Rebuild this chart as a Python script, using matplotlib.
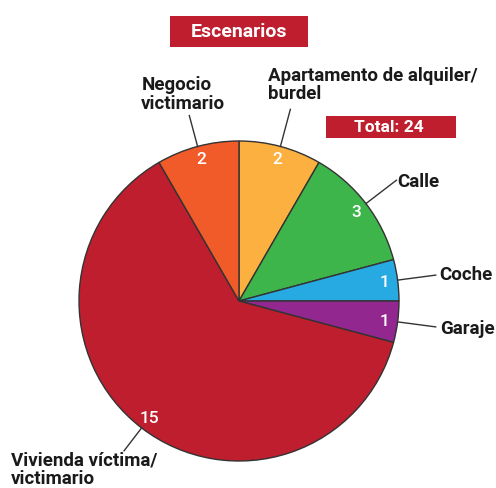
import numpy as np
import matplotlib.pyplot as plt
from matplotlib.patches import Rectangle

# --- Data ---
labels = ['Apartamento de alquiler/\nburdel', 'Calle', 'Coche', 'Garaje',
          'Vivienda víctima/\nvictimario', 'Negocio\nvictimario']
values = [2, 3, 1, 1, 15, 2]
colors = ['#FBB040', '#3DB54A', '#27AAE1', '#92278F', '#BE1E2D', '#F15A29']
title = 'Escenarios'
total_text = f'Total: {sum(values)}'

plt.rcParams['font.family'] = ['Roboto', 'DejaVu Sans']

W, H = 496, 489
fig = plt.figure(figsize=(W / 100, H / 100), dpi=100)
ax = fig.add_axes([0, 0, 1, 1])

cx, cy, R = 239, H - 302, 160

wedges, _, autotexts = ax.pie(
    values, colors=colors, startangle=90, counterclock=False,
    center=(cx, cy), radius=R, frame=True,
    autopct=lambda p: f'{round(p * sum(values) / 100):d}',
    pctdistance=0.92,
    wedgeprops=dict(edgecolor='#333333', linewidth=1.0),
    textprops=dict(color='white', fontsize=12.5, fontweight='medium'))
ax.set_xlim(0, W)
ax.set_ylim(0, H)
ax.set_aspect('equal')
ax.axis('off')

# leader end radius, text offset from leader end, alignment
label_layout = [
    dict(r=1.24, dx=-22, dy=7, ha='left', va='bottom'),
    dict(r=1.24, dx=1, dy=-1, ha='left', va='center'),
    dict(r=1.24, dx=4, dy=1, ha='left', va='center'),
    dict(r=1.24, dx=4, dy=-1, ha='left', va='center'),
    dict(r=1.18, dx=-113, dy=0, ha='left', va='top'),
    dict(r=1.20, dx=-48, dy=4, ha='left', va='bottom'),
]

for w, lab, lay in zip(wedges, labels, label_layout):
    ang = np.deg2rad((w.theta1 + w.theta2) / 2)
    x0, y0 = cx + R * np.cos(ang), cy + R * np.sin(ang)
    x1, y1 = cx + lay['r'] * R * np.cos(ang), cy + lay['r'] * R * np.sin(ang)
    ax.plot([x0, x1], [y0, y1], color='#333333', lw=1.0)
    ax.text(x1 + lay['dx'], y1 + lay['dy'], lab, ha=lay['ha'], va=lay['va'],
            fontsize=13.5, fontweight='bold', color='#1a1a1a', linespacing=1.05)

# title box
ax.add_patch(Rectangle((170, H - 48), 138, 31, facecolor='#BE1E2D', edgecolor='none'))
ax.text(239, H - 32.5, title, ha='center', va='center', color='white',
        fontsize=14, fontweight='bold')

# total box
ax.add_patch(Rectangle((326, H - 139), 130, 22, facecolor='#BE1E2D', edgecolor='none'))
ax.text(389, H - 128, total_text, ha='center', va='center', color='white',
        fontsize=12.5, fontweight='bold')

plt.savefig('out.png', dpi=100)
